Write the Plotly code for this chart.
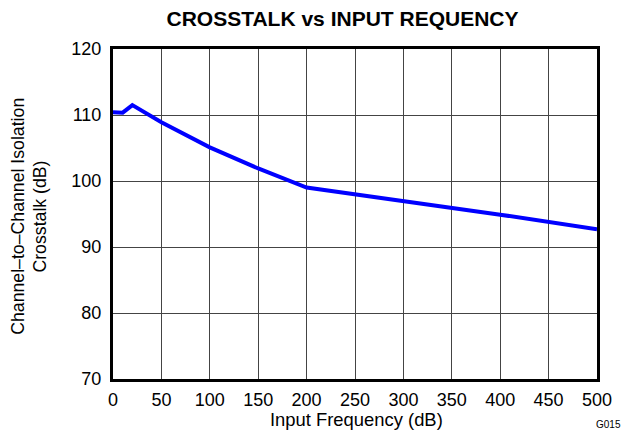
import plotly.graph_objects as go

freq = [0, 10, 20, 50, 100, 150, 200, 300, 400, 500]
crosstalk = [110.4, 110.35, 111.5, 108.9, 105.1, 101.9, 99.0, 97.0, 94.9, 92.7]

x_ticks = [0, 50, 100, 150, 200, 250, 300, 350, 400, 450, 500]
y_ticks = [70, 80, 90, 100, 110, 120]

font = "Liberation Sans, Arial, sans-serif"

fig = go.Figure()
fig.add_trace(go.Scatter(x=freq, y=crosstalk, mode="lines",
                         line=dict(color="#0000ff", width=4), showlegend=False))

fig.update_layout(
    width=622, height=426,
    margin=dict(l=105, r=33, t=41, b=55),
    paper_bgcolor="white", plot_bgcolor="white",
    font=dict(family=font, color="black", size=18),
    title=dict(text="<b>CROSSTALK vs INPUT REQUENCY</b>", x=0.5378, xanchor="center",
               xref="container", y=1 - 11 / 426, yanchor="middle",
               font=dict(size=21, family=font)),
    xaxis=dict(range=[0, 500], tickvals=x_ticks, showgrid=True, gridcolor="#444444",
               gridwidth=1, showline=True, linecolor="black", linewidth=3, mirror=True,
               zeroline=False, ticks="", ticklabelstandoff=2, automargin=False,
               tickfont=dict(size=18)),
    yaxis=dict(range=[70, 120], tickvals=y_ticks, showgrid=True, gridcolor="#444444",
               gridwidth=1, showline=True, linecolor="black", linewidth=3, mirror=True,
               zeroline=False, ticks="", ticklabelstandoff=5, automargin=False,
               tickfont=dict(size=18)),
)
fig.add_annotation(text="Channel\u2013to\u2013Channel Isolation", xref="paper", yref="paper",
                   x=-0.196, y=0.492, textangle=-90, showarrow=False,
                   xanchor="center", yanchor="middle", font=dict(size=17.7, family=font))
fig.add_annotation(text="Crosstalk (dB)", xref="paper", yref="paper",
                   x=-0.151, y=0.492, textangle=-90, showarrow=False,
                   xanchor="center", yanchor="middle", font=dict(size=17.7, family=font))
fig.add_annotation(text="Input Frequency (dB)", xref="paper", yref="paper",
                   x=0.504, y=-0.124, showarrow=False, xanchor="center", yanchor="middle",
                   font=dict(size=18.4, family=font))
fig.add_annotation(text="G015", xref="paper", yref="paper", x=1.054, y=-0.139,
                   showarrow=False, font=dict(size=10, family=font),
                   xanchor="right", yanchor="middle")
fig.write_html("out.html")
